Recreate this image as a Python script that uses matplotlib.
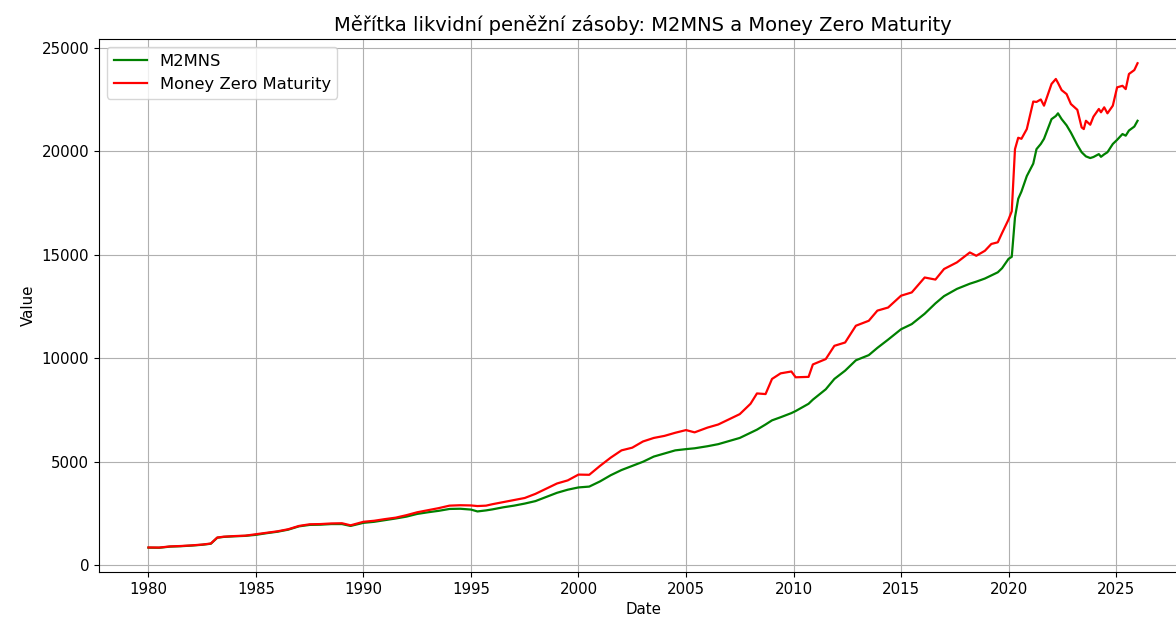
import matplotlib
matplotlib.use("Agg")
import matplotlib.pyplot as plt

# decimal years
dates = [1980.0, 1980.5, 1981.0, 1981.5, 1982.0, 1982.5, 1982.9, 1983.2, 1983.5, 1984.0,
         1984.5, 1985.0, 1985.5, 1986.0, 1986.5, 1987.0, 1987.5, 1988.0, 1988.5, 1989.0,
         1989.4, 1990.0, 1990.5, 1991.0, 1991.5, 1992.0, 1992.5, 1993.0, 1993.5, 1994.0,
         1994.5, 1995.0, 1995.3, 1995.7, 1996.0, 1996.5, 1997.0, 1997.5, 1998.0, 1998.5,
         1999.0, 1999.5, 2000.0, 2000.5, 2001.0, 2001.5, 2002.0, 2002.5, 2003.0, 2003.5,
         2004.0, 2004.5, 2005.0, 2005.4, 2006.0, 2006.5, 2007.0, 2007.5, 2008.0, 2008.3,
         2008.7, 2009.0, 2009.4, 2009.9, 2010.1, 2010.7, 2010.9, 2011.5, 2011.9, 2012.4,
         2012.9, 2013.5, 2013.9, 2014.4, 2015.0, 2015.5, 2016.1, 2016.6, 2017.0, 2017.6,
         2018.2, 2018.5, 2018.9, 2019.2, 2019.5, 2019.7, 2020.0, 2020.15, 2020.3, 2020.45,
         2020.6, 2020.85, 2021.15, 2021.3, 2021.5, 2021.65, 2022.0, 2022.2, 2022.3, 2022.47,
         2022.7, 2022.9, 2023.2, 2023.4, 2023.5, 2023.6, 2023.8, 2023.95, 2024.2, 2024.3,
         2024.45, 2024.6, 2024.85, 2025.05, 2025.3, 2025.45, 2025.6, 2025.85, 2026.0]

m2mns = [850, 845, 900, 920, 950, 990, 1040, 1330, 1370, 1400,
         1420, 1470, 1550, 1620, 1720, 1880, 1950, 1960, 1990, 1990,
         1900, 2050, 2100, 2180, 2260, 2350, 2480, 2560, 2630, 2720,
         2730, 2690, 2600, 2650, 2700, 2800, 2880, 2980, 3100, 3300,
         3500, 3650, 3760, 3800, 4050, 4350, 4600, 4800, 5000, 5250,
         5400, 5550, 5610, 5650, 5750, 5850, 6000, 6150, 6400, 6550,
         6800, 7000, 7150, 7350, 7450, 7800, 8000, 8500, 9000, 9400,
         9900, 10150, 10500, 10900, 11400, 11650, 12150, 12650, 13000, 13350,
         13600, 13700, 13850, 14000, 14150, 14350, 14800, 14900, 16800, 17700,
         18050, 18800, 19400, 20100, 20350, 20600, 21550, 21700, 21830, 21550,
         21250, 20900, 20300, 19950, 19850, 19750, 19670, 19720, 19860, 19730,
         19850, 19950, 20350, 20550, 20830, 20750, 21000, 21190, 21470]

mzm = [860, 855, 910, 930, 960, 1000, 1050, 1340, 1380, 1410,
       1430, 1500, 1570, 1640, 1740, 1900, 1980, 1990, 2020, 2030,
       1930, 2100, 2150, 2230, 2300, 2420, 2560, 2660, 2760, 2880,
       2900, 2890, 2860, 2880, 2950, 3050, 3150, 3250, 3450, 3700,
       3950, 4100, 4380, 4370, 4800, 5200, 5550, 5680, 5980, 6150,
       6250, 6400, 6530, 6420, 6650, 6800, 7050, 7300, 7800, 8300,
       8270, 9000, 9270, 9360, 9080, 9100, 9700, 9960, 10600, 10760,
       11570, 11810, 12300, 12450, 13020, 13180, 13900, 13800, 14310, 14630,
       15110, 14950, 15190, 15520, 15600, 16050, 16700, 17100, 20100, 20650,
       20600, 21070, 22400, 22380, 22500, 22200, 23250, 23490, 23300, 22950,
       22760, 22280, 22000, 21150, 21070, 21470, 21280, 21670, 22040, 21880,
       22120, 21830, 22200, 23085, 23160, 23000, 23730, 23920, 24250]

years_ticks = [1980, 1985, 1990, 1995, 2000, 2005, 2010, 2015, 2020, 2025]

fig = plt.figure(figsize=(11.76, 6.19), dpi=100)
ax = fig.add_axes([99 / 1176, 47 / 619, 1088 / 1176, 533 / 619])

ax.plot(dates, m2mns, color="green", label="M2MNS", linewidth=1.6)
ax.plot(dates, mzm, color="red", label="Money Zero Maturity", linewidth=1.6)

ax.set_xticks(years_ticks)
ax.set_xticklabels([str(y) for y in years_ticks])
ax.tick_params(labelsize=10.8)
ax.set_title("Měřítka likvidní peněžní zásoby: M2MNS a Money Zero Maturity", fontsize=14)
ax.set_xlabel("Date", fontsize=10.8)
ax.set_ylabel("Value", fontsize=10.8)
ax.legend(loc="upper left", fontsize=11.8)
ax.grid(True)

fig.savefig("out.png", dpi=100)
